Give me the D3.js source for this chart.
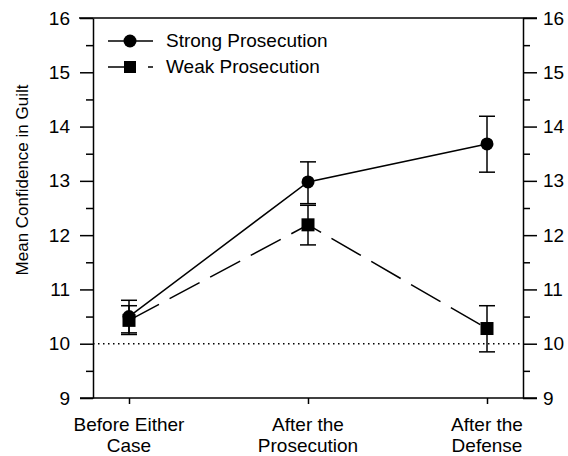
<!DOCTYPE html>
<html>
<head>
<meta charset="utf-8">
<script src="https://cdn.jsdelivr.net/npm/d3@7"></script>
<style>
  body { margin: 0; background: #fff; }
  svg text { font-family: "Liberation Sans", Arial, sans-serif; fill: #000; }
</style>
</head>
<body>
<div id="chart"></div>
<script>
const categories = ["Before Either Case", "After the Prosecution", "After the Defense"];
const categoryLines = [["Before Either", "Case"], ["After the", "Prosecution"], ["After the", "Defense"]];
const majorTicks = [9, 10, 11, 12, 13, 14, 15, 16];
const minorTicks = [9.5, 10.5, 11.5, 12.5, 13.5, 14.5, 15.5];

const strongMean = [10.5, 12.98, 13.68];
const strongLow = [10.2, 12.58, 13.16];
const strongHigh = [10.8, 13.35, 14.19];

const weakMean = [10.43, 12.19, 10.28];
const weakLow = [10.17, 11.82, 9.85];
const weakHigh = [10.7, 12.55, 10.7];

const baseline = 10;

const width = 568, height = 456;
const plot = { left: 93, right: 523, top: 18, bottom: 398 };

const svg = d3.select("#chart").append("svg")
  .attr("width", width)
  .attr("height", height);

const x = d3.scalePoint()
  .domain(categories)
  .range([129, 487]);

const y = d3.scaleLinear()
  .domain([9, 16])
  .range([plot.bottom, plot.top]);

// axes
const yLeft = svg.append("g")
  .attr("transform", `translate(${plot.left},0)`)
  .call(d3.axisLeft(y).tickValues(majorTicks).tickSize(13).tickSizeOuter(0).tickPadding(10).tickFormat(d3.format("d")));
const yRight = svg.append("g")
  .attr("transform", `translate(${plot.right},0)`)
  .call(d3.axisRight(y).tickValues(majorTicks).tickSize(14).tickSizeOuter(0).tickPadding(6).tickFormat(d3.format("d")));

[yLeft, yRight].forEach(g => {
  g.selectAll("text").style("font-size", "19px");
  g.selectAll("line, path").attr("stroke", "#000").attr("stroke-width", 1.5);
});

svg.append("g")
  .attr("transform", `translate(${plot.left},0)`)
  .call(d3.axisLeft(y).tickValues(minorTicks).tickSize(7).tickSizeOuter(0).tickFormat(""))
  .call(g => g.select(".domain").remove())
  .selectAll("line").attr("stroke", "#000").attr("stroke-width", 1.5);
svg.append("g")
  .attr("transform", `translate(${plot.right},0)`)
  .call(d3.axisRight(y).tickValues(minorTicks).tickSize(7).tickSizeOuter(0).tickFormat(""))
  .call(g => g.select(".domain").remove())
  .selectAll("line").attr("stroke", "#000").attr("stroke-width", 1.5);

// top and bottom frame lines
svg.append("line").attr("x1", 79).attr("x2", 537).attr("y1", y(16)).attr("y2", y(16))
  .attr("stroke", "#000").attr("stroke-width", 1.5);

const xAxis = svg.append("g")
  .attr("transform", `translate(0,${plot.bottom})`)
  .call(d3.axisBottom(x).tickSize(6).tickSizeOuter(0).tickFormat(""));
xAxis.select(".domain").remove();
xAxis.selectAll("line").attr("stroke", "#000").attr("stroke-width", 1.5);
svg.append("line").attr("x1", 80).attr("x2", 537).attr("y1", plot.bottom).attr("y2", plot.bottom)
  .attr("stroke", "#000").attr("stroke-width", 1.5);

// x labels
categories.forEach((c, i) => {
  const t = svg.append("text")
    .attr("x", x(c))
    .attr("y", 431)
    .attr("text-anchor", "middle")
    .style("font-size", "19px");
  categoryLines[i].forEach((ln, j) => {
    t.append("tspan").attr("x", x(c)).attr("dy", j === 0 ? 0 : 21).text(ln);
  });
});

// y label
svg.append("text")
  .attr("transform", `translate(28,${(plot.top + plot.bottom) / 2 - 28}) rotate(-90)`)
  .attr("text-anchor", "middle")
  .style("font-size", "17px")
  .text("Mean Confidence in Guilt");

// baseline
svg.append("line")
  .attr("x1", plot.left).attr("x2", plot.right)
  .attr("y1", y(baseline)).attr("y2", y(baseline))
  .attr("stroke", "#000").attr("stroke-width", 1.5)
  .attr("stroke-dasharray", "1.5,3.5");

const line = d3.line()
  .x((d, i) => x(categories[i]))
  .y(d => y(d));

function errorBars(lows, highs) {
  const g = svg.append("g").attr("stroke", "#000").attr("stroke-width", 1.5);
  categories.forEach((c, i) => {
    const cx = x(c);
    g.append("line").attr("x1", cx).attr("x2", cx).attr("y1", y(lows[i])).attr("y2", y(highs[i]));
    g.append("line").attr("x1", cx - 8).attr("x2", cx + 8).attr("y1", y(lows[i])).attr("y2", y(lows[i]));
    g.append("line").attr("x1", cx - 8).attr("x2", cx + 8).attr("y1", y(highs[i])).attr("y2", y(highs[i]));
  });
}

// weak prosecution
svg.append("path")
  .datum(weakMean)
  .attr("d", line)
  .attr("fill", "none")
  .attr("stroke", "#000")
  .attr("stroke-width", 1.5)
  .attr("stroke-dasharray", "34,12");
errorBars(weakLow, weakHigh);
svg.selectAll(".weak-pt")
  .data(weakMean)
  .join("rect")
  .attr("class", "weak-pt")
  .attr("x", (d, i) => x(categories[i]) - 6.5)
  .attr("y", d => y(d) - 6.5)
  .attr("width", 13)
  .attr("height", 13)
  .attr("fill", "#000");

// strong prosecution
svg.append("path")
  .datum(strongMean)
  .attr("d", line)
  .attr("fill", "none")
  .attr("stroke", "#000")
  .attr("stroke-width", 1.5);
errorBars(strongLow, strongHigh);
svg.selectAll(".strong-pt")
  .data(strongMean)
  .join("circle")
  .attr("class", "strong-pt")
  .attr("cx", (d, i) => x(categories[i]))
  .attr("cy", d => y(d))
  .attr("r", 6.5)
  .attr("fill", "#000");

// legend
const legend = svg.append("g");
legend.append("line").attr("x1", 108).attr("x2", 153).attr("y1", 41).attr("y2", 41)
  .attr("stroke", "#000").attr("stroke-width", 1.5);
legend.append("circle").attr("cx", 130).attr("cy", 41).attr("r", 6.5).attr("fill", "#000");
legend.append("text").attr("x", 166).attr("y", 47).style("font-size", "19px").text("Strong Prosecution");

legend.append("line").attr("x1", 108).attr("x2", 153).attr("y1", 67).attr("y2", 67)
  .attr("stroke", "#000").attr("stroke-width", 1.5)
  .attr("stroke-dasharray", "28,12");
legend.append("rect").attr("x", 124).attr("y", 61).attr("width", 12).attr("height", 12).attr("fill", "#000");
legend.append("text").attr("x", 166).attr("y", 73).style("font-size", "19px").text("Weak Prosecution");
</script>
</body>
</html>
